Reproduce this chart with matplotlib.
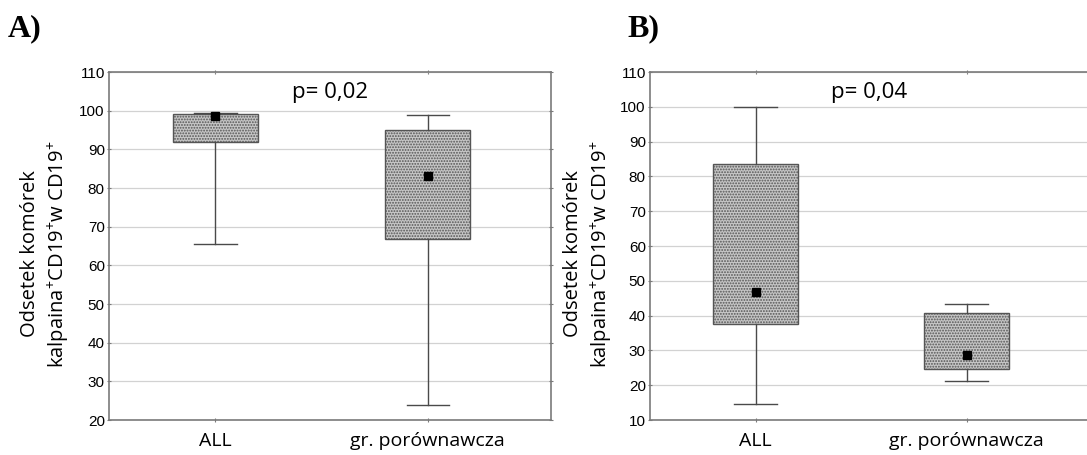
import matplotlib
matplotlib.use("Agg")
import matplotlib.pyplot as plt

# Group labels
categories = ["ALL", "gr. porównawcza"]

# Panel A: median, quartiles and min-max range (%)
a_median = [98.5, 83.0]
a_q1 = [92.0, 66.8]
a_q3 = [99.2, 94.9]
a_min = [65.5, 24.0]
a_max = [99.5, 99.0]
a_pvalue = "p= 0,02"

# Panel B
b_median = [46.9, 28.6]
b_q1 = [37.6, 24.7]
b_q3 = [83.6, 40.8]
b_min = [14.6, 21.2]
b_max = [100.0, 43.2]
b_pvalue = "p= 0,04"

plt.rcParams["font.family"] = ["Open Sans", "DejaVu Sans"]
plt.rcParams["mathtext.fontset"] = "custom"
plt.rcParams["mathtext.rm"] = "Open Sans"
plt.rcParams["mathtext.it"] = "Open Sans"
plt.rcParams["mathtext.bf"] = "Open Sans"
plt.rcParams["hatch.linewidth"] = 0.9

W, H = 1087, 455
fig = plt.figure(figsize=(W / 100, H / 100), dpi=100)

YLABEL = "Odsetek komórek\nkalpaina$^{+}$CD19$^{+}$w CD19$^{+}$"
SPINE = "#7a7a7a"


def panel(rect, med, q1, q3, lo, hi, ylim, yticks, ptext, letter, letter_x, ylab_x):
    ax = fig.add_axes(rect)
    stats = []
    for i in range(len(categories)):
        stats.append(dict(med=med[i], mean=med[i], q1=q1[i], q3=q3[i],
                          whislo=lo[i], whishi=hi[i], fliers=[]))
    ax.bxp(stats, positions=range(len(categories)), widths=0.4,
           capwidths=0.2, patch_artist=True, showmeans=True,
           boxprops=dict(facecolor="#c6c6c6", edgecolor="#555555",
                         hatch="......", linewidth=1.0),
           whiskerprops=dict(color="#4a4a4a", linewidth=1.0),
           capprops=dict(color="#4a4a4a", linewidth=1.0),
           medianprops=dict(linewidth=0),
           meanprops=dict(marker="s", markerfacecolor="black",
                          markeredgecolor="black", markersize=5.5))
    ax.set_xlim(-0.5, 1.58)
    ax.set_ylim(*ylim)
    ax.set_yticks(yticks)
    ax.set_xticks(range(len(categories)))
    ax.set_xticklabels(categories, fontsize=14)
    ax.tick_params(axis="x", pad=7, length=3, direction="inout",
                   top=True, color=SPINE)
    ax.tick_params(axis="y", labelsize=11, pad=1.5, length=3,
                   direction="inout", right=True, color=SPINE)
    for lab in ax.get_yticklabels():
        lab.set_fontfamily(["Liberation Sans", "DejaVu Sans"])
    ax.yaxis.grid(True, color="#d2d2d2", linewidth=0.9)
    ax.set_axisbelow(True)
    for s in ax.spines.values():
        s.set_color(SPINE)
        s.set_linewidth(1.2)
    ax.text(0.5, 0.94, ptext, transform=ax.transAxes, ha="center",
            va="center", fontsize=16)
    fig.text(letter_x / W, 1 - 29 / H, letter, fontsize=23,
             fontweight="bold", family=["Liberation Serif", "DejaVu Serif"],
             ha="left", va="center")
    fig.text(ylab_x / W, 1 - 254 / H, YLABEL, rotation=90, ha="center",
             va="center", fontsize=14.5, multialignment="center",
             linespacing=1.3)
    return ax


bottom = 1 - 420 / H
height = (420 - 72) / H

panel([109 / W, bottom, (551 - 109) / W, height],
      a_median, a_q1, a_q3, a_min, a_max,
      (20, 110), range(20, 111, 10), a_pvalue, "A)", 8, 46)

panel([650 / W, bottom, (1089 - 650) / W, height],
      b_median, b_q1, b_q3, b_min, b_max,
      (10, 110), range(10, 111, 10), b_pvalue, "B)", 627, 589)

fig.savefig("out.png", dpi=100)
